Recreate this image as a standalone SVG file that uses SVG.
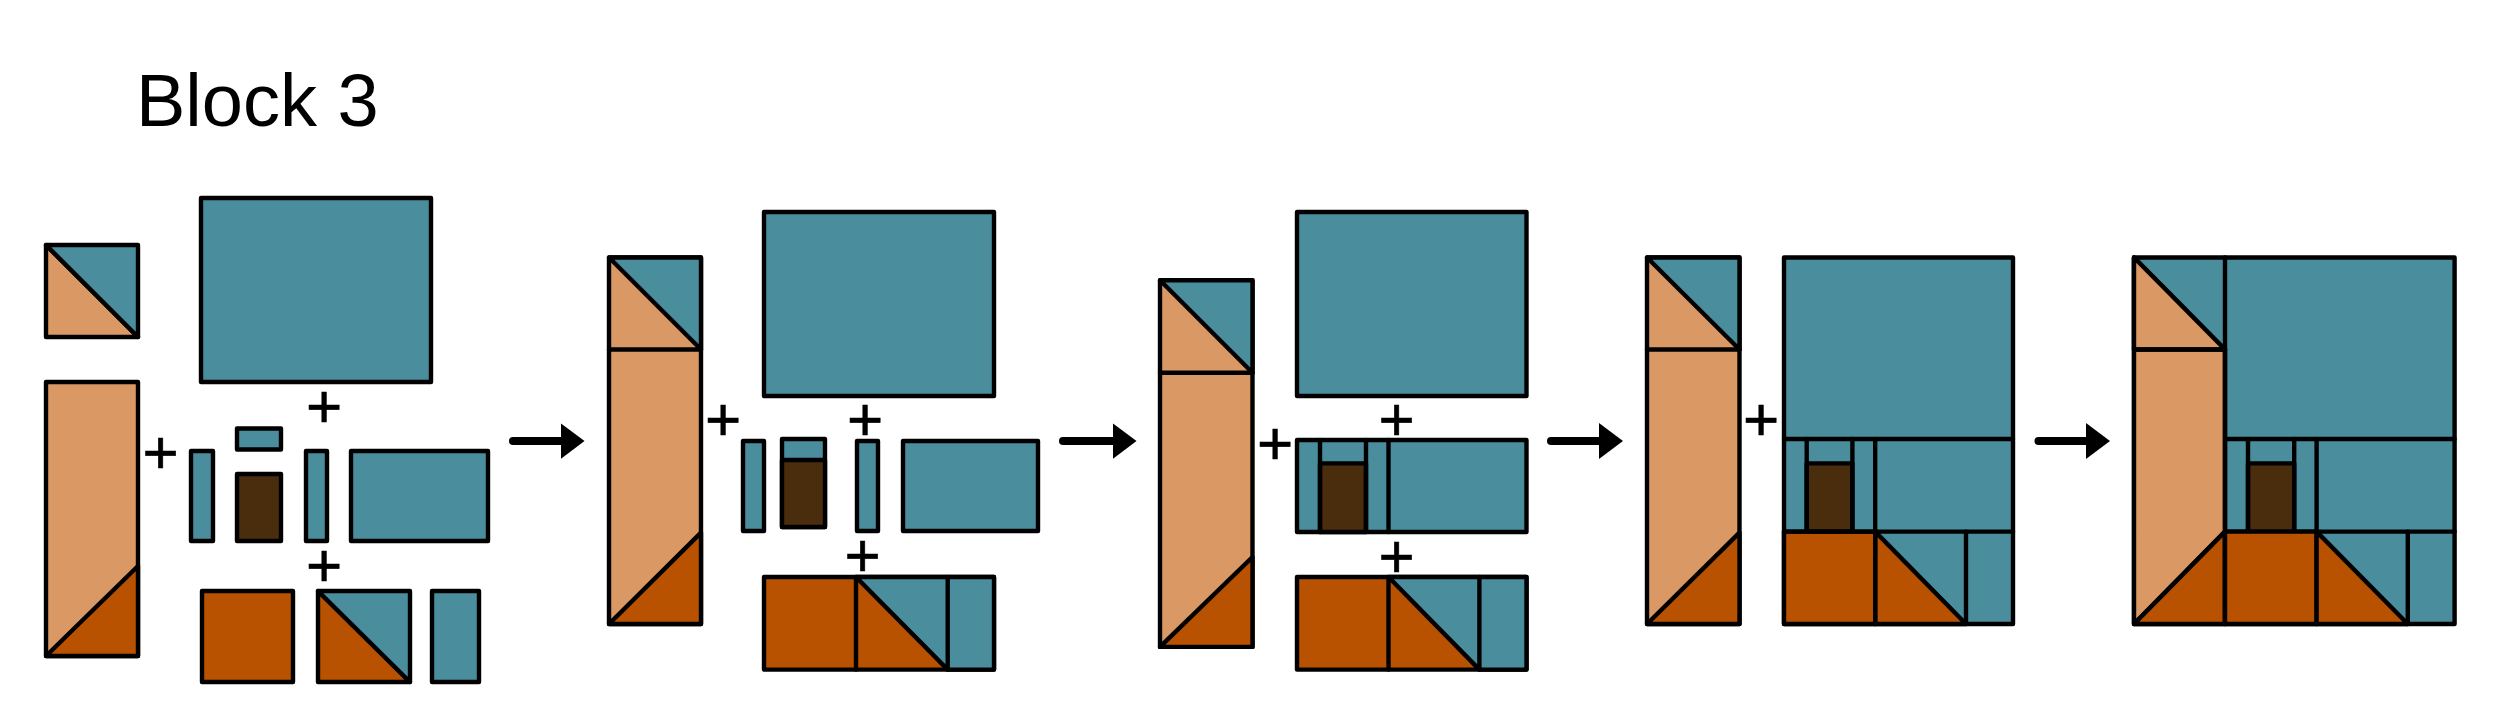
<svg xmlns="http://www.w3.org/2000/svg" width="2499" height="704" viewBox="0 0 2499 704">
<defs>
<style>
.p{stroke:#000;stroke-width:4.4;stroke-linejoin:round;stroke-linecap:round}
.t{fill:#4A8E9E}
.lo{fill:#DA9964}
.do{fill:#B85200}
.br{fill:#4A2D0D}
.n{fill:none}
.plus{font-family:"Liberation Sans",Arial,sans-serif;font-size:62px;text-anchor:middle;fill:#000;stroke:#000;stroke-width:0.6}
.arr{stroke:#000;stroke-width:8;stroke-linecap:round;fill:none}
</style>
<marker id="ah" viewBox="0 0 24 36" refX="2" refY="18" markerWidth="24" markerHeight="36" markerUnits="userSpaceOnUse" orient="auto">
<path d="M0,0 L24,18 L0,36 Z" fill="#000"/>
</marker>
</defs>
<rect width="2499" height="704" fill="#fff"/>
<text x="136" y="126" font-family="Liberation Sans, Arial, sans-serif" font-size="74" fill="#000">Block 3</text>

<!-- Section 1 -->
<g id="s1-hst" class="p"><polygon class="lo" points="46,245 138,337 46,337"/><polygon class="t" points="46,245 138,245 138,337"/></g>
<g id="s1-strip" class="p"><rect class="lo" x="46" y="382" width="92" height="274"/><polygon class="do" points="46,656 138,566 138,656"/></g>
<g id="s1-bigteal" class="p"><rect class="t" x="201" y="198" width="230" height="184"/></g>
<g id="s1-thinL" class="p"><rect class="t" x="191" y="451" width="22" height="90"/></g>
<g id="s1-smallteal" class="p"><rect class="t" x="237" y="428.5" width="44" height="21"/></g>
<g id="s1-brown" class="p"><rect class="br" x="237" y="474" width="44" height="67"/></g>
<g id="s1-thinR" class="p"><rect class="t" x="306" y="451" width="21" height="90"/></g>
<g id="s1-tealrect" class="p"><rect class="t" x="351" y="451" width="137" height="90"/></g>
<g id="s1-dosq" class="p"><rect class="do" x="202" y="591" width="91" height="91"/></g>
<g id="s1-hst2" class="p"><polygon class="do" points="318,591 410,682 318,682"/><polygon class="t" points="318,591 410,591 410,682"/></g>
<g id="s1-tealstrip" class="p"><rect class="t" x="432" y="591" width="47" height="91"/></g>

<!-- Section 2 -->
<g id="s2-strip" class="p"><rect class="lo" x="609" y="257.5" width="92" height="366.5"/><polygon class="t" points="609,257.5 701,257.5 701,349.5"/><line x1="609" y1="349.5" x2="701" y2="349.5"/><polygon class="do" points="609,624 701,532.6 701,624"/></g>
<g id="s2-bigteal" class="p"><rect class="t" x="764" y="212" width="230" height="184"/></g>
<g id="s2-thinL" class="p"><rect class="t" x="743" y="441" width="21" height="90"/></g>
<g id="s2-brownunit" class="p"><rect class="t" x="782" y="439" width="43" height="88"/><rect class="br" x="782" y="460" width="43" height="67"/></g>
<g id="s2-thinR" class="p"><rect class="t" x="857" y="441" width="21" height="90"/></g>
<g id="s2-tealrect" class="p"><rect class="t" x="903" y="441" width="135" height="90"/></g>
<g id="s2-bottom" class="p"><rect class="do" x="764" y="577" width="230" height="92.6"/><polygon class="t" points="856,577 994,577 994,669.6 947.7,669.6"/><line x1="856" y1="577" x2="856" y2="669.6"/><line x1="947.7" y1="577" x2="947.7" y2="669.6"/></g>

<!-- Section 3 -->
<g id="s3-strip" class="p"><rect class="lo" x="1160" y="280.3" width="92.5" height="366.6"/><polygon class="t" points="1160,280.3 1252.5,280.3 1252.5,372.8"/><line x1="1160" y1="372.8" x2="1252.5" y2="372.8"/><polygon class="do" points="1160,646.9 1252.5,557 1252.5,646.9"/></g>
<g id="s3-bigteal" class="p"><rect class="t" x="1297" y="212" width="229.5" height="184"/></g>
<g id="s3-middle" class="p"><rect class="t" x="1297" y="440" width="229.5" height="92"/><rect class="br" x="1320" y="463.4" width="46" height="68.6"/><line x1="1320" y1="440" x2="1320" y2="532"/><line x1="1366" y1="440" x2="1366" y2="532"/><line x1="1388.5" y1="440" x2="1388.5" y2="532"/></g>
<g id="s3-bottom" class="p"><rect class="do" x="1297" y="577" width="229.5" height="92.6"/><polygon class="t" points="1388.5,577 1526.5,577 1526.5,669.6 1479.4,669.6"/><line x1="1388.5" y1="577" x2="1388.5" y2="669.6"/><line x1="1479.4" y1="577" x2="1479.4" y2="669.6"/></g>

<!-- Section 4 -->
<g id="s4-strip" class="p"><rect class="lo" x="1647" y="257.5" width="92.5" height="366.5"/><polygon class="t" points="1647,257.5 1739.5,257.5 1739.5,349.5"/><line x1="1647" y1="349.5" x2="1739.5" y2="349.5"/><polygon class="do" points="1647,624 1739.5,532.6 1739.5,624"/></g>
<g id="s4-block" class="p"><rect class="t" x="1784" y="257.5" width="229" height="366.5"/><rect class="br" x="1806.7" y="463.4" width="45.7" height="68.2"/><rect class="do" x="1784" y="531.6" width="91.2" height="92.4"/><polygon class="do" points="1875.2,531.6 1966,624 1875.2,624"/><line x1="1784" y1="439" x2="2013" y2="439"/><line x1="1784" y1="531.6" x2="2013" y2="531.6"/><line x1="1806.7" y1="439" x2="1806.7" y2="531.6"/><line x1="1852.4" y1="439" x2="1852.4" y2="531.6"/><line x1="1875.2" y1="439" x2="1875.2" y2="624"/><line x1="1966" y1="531.6" x2="1966" y2="624"/></g>

<!-- Section 5 -->
<g id="s5-block" class="p"><rect class="t" x="2134" y="257.5" width="320.6" height="366.5"/><polygon class="lo" points="2134,257.5 2225,349.5 2225,531.6 2134,624"/><polygon class="lo" points="2134,257.5 2225,349.5 2134,349.5"/><line x1="2134" y1="349.5" x2="2225" y2="349.5"/><polygon class="do" points="2134,624 2225,531.6 2225,624"/><line x1="2225" y1="257.5" x2="2225" y2="624"/><line x1="2225" y1="439" x2="2454.6" y2="439"/><line x1="2225" y1="531.6" x2="2454.6" y2="531.6"/><rect class="br" x="2248" y="463.4" width="46.2" height="68.2"/><line x1="2248" y1="439" x2="2248" y2="531.6"/><line x1="2294.2" y1="439" x2="2294.2" y2="531.6"/><line x1="2316.6" y1="439" x2="2316.6" y2="624"/><rect class="do" x="2225" y="531.6" width="91.6" height="92.4"/><polygon class="do" points="2316.6,531.6 2407.8,624 2316.6,624"/><line x1="2407.8" y1="531.6" x2="2407.8" y2="624"/></g>

<!-- plus signs -->
<g id="plus">
<text class="plus" x="160.7" y="472.8">+</text>
<text class="plus" x="324" y="426.8">+</text>
<text class="plus" x="324" y="586">+</text>
<text class="plus" x="723" y="439.8">+</text>
<text class="plus" x="865" y="439.8">+</text>
<text class="plus" x="862.7" y="575.8">+</text>
<text class="plus" x="1275" y="463.8">+</text>
<text class="plus" x="1396.5" y="439.8">+</text>
<text class="plus" x="1396.5" y="576.8">+</text>
<text class="plus" x="1761" y="439.8">+</text>
</g>

<!-- connectors -->
<g id="connectors">
<line class="arr" x1="513" y1="441" x2="562.5" y2="441" marker-end="url(#ah)"/>
<line class="arr" x1="1063" y1="441" x2="1114.5" y2="441" marker-end="url(#ah)"/>
<line class="arr" x1="1551" y1="441" x2="1601" y2="441" marker-end="url(#ah)"/>
<line class="arr" x1="2038.5" y1="441" x2="2088" y2="441" marker-end="url(#ah)"/>
</g>
</svg>
